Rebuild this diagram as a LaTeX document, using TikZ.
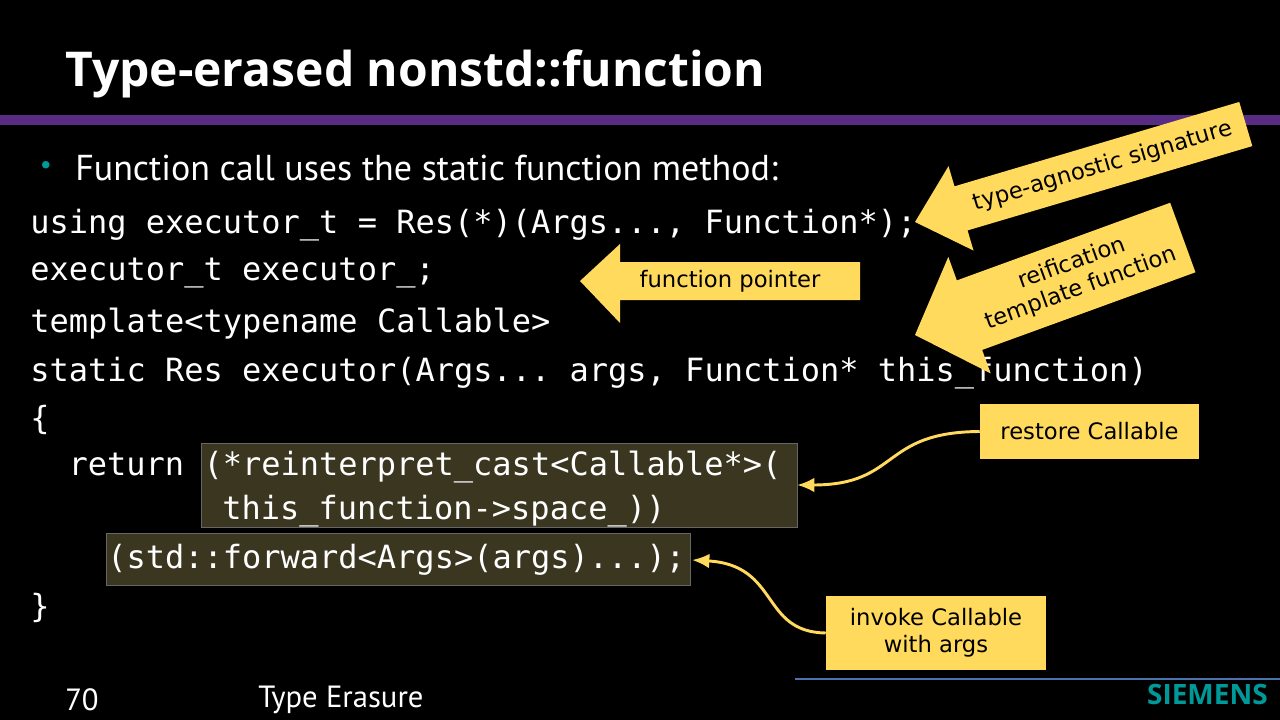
\documentclass[tikz,border=0pt]{standalone}
\usepackage{fontspec}
\setmainfont{PT Sans}
\setmonofont{DejaVu Sans Mono}
\newfontfamily\titlefont{Open Sans}
\newfontfamily\notefont{DejaVu Sans}
\usetikzlibrary{positioning,arrows.meta}
\definecolor{notey}{HTML}{FFDA5C}
\definecolor{barpurple}{HTML}{582C83}
\definecolor{hlbox}{HTML}{3B3620}
\definecolor{teal}{HTML}{009999}
\newcommand{\us}{\char`\_}
\begin{document}
\begin{tikzpicture}[x=0.75pt,y=-0.75pt,>=latex,
  code/.style={anchor=west,text=white,font=\ttfamily\fontsize{24}{28}\selectfont,inner sep=0pt},
  hl/.style={fill=hlbox,draw=black!60!white,line width=0.6pt},
  note/.style={fill=notey,text=black,font=\notefont\fontsize{17}{20}\selectfont,align=center},
  link/.style={draw=notey,line width=2.2pt,-{Latex[length=13pt,width=11pt]}}]
  \fill[black] (0,0) rectangle (1280,720);
  \useasboundingbox (0,0) rectangle (1280,720);

  % title and header bar
  \node[anchor=base west,text=white,inner sep=0pt,font=\titlefont\bfseries\fontsize{36}{40}\selectfont] (title) at (65,87) {Type-erased nonstd::function};
  \fill[barpurple] (0,115) rectangle (1280,125);

  % bullet
  \node[text=teal,font=\fontsize{20}{24}\selectfont] (dot) at (46,168) {•};
  \node[anchor=west,text=white,inner sep=0pt,font=\fontsize{27}{30}\selectfont] (bullet) at (75,168) {Function call uses the static function method:};

  % highlighted code parts
  \draw[hl] (201,443) rectangle (797,527);
  \draw[hl] (106,533) rectangle (690,585);
  \coordinate (cast) at (797,485);
  \coordinate (fwd) at (692,560);

  % code lines
  \node[code] (l1) at (30,225) {using executor\us t = Res(*)(Args..., Function*);};
  \node[code] (l2) at (30,273) {executor\us t executor\us;};
  \node[code] (l3) at (30,324) {template<typename Callable>};
  \node[code] (l4) at (30,373) {static Res executor(Args... args, Function* this\us function)};
  \node[code] (l5) at (30,420) {\{};
  \node[code] (l6) at (68.4,467) {return (*reinterpret\us cast<Callable*>(};
  \node[code] (l7) at (222,511) {this\us function->space\us))};
  \node[code] (l8) at (107,560) {(std::forward<Args>(args)...);};
  \node[code] (l9) at (30,608) {\}};

  % block arrows
  \fill[notey] (860,262) -- (620,262) -- (620,244) -- (580,281) -- (620,323) -- (620,300) -- (860,300) -- cycle;
  \node[note,fill=none] (fp) at (730,281) {function pointer};

  \begin{scope}[shift={(915,222)},rotate=16.5]
    \fill[notey] (0,0) -- (48,-44) -- (48,-23) -- (345,-23) -- (345,23) -- (48,23) -- (48,44) -- cycle;
    \node[note,fill=none,rotate=16.5] (sig) at (196,0) {type-agnostic signature};
  \end{scope}

  \begin{scope}[shift={(915,335)},rotate=20]
    \fill[notey] (0,0) -- (58,-62) -- (58,-37) -- (285,-37) -- (285,37) -- (58,37) -- (58,62) -- cycle;
    \node[note,fill=none,rotate=20,inner sep=0pt] (reif) at (172,0) {reification\\template function};
  \end{scope}

  % callouts with links
  \node[note,minimum width=219pt*0.75,minimum height=55pt*0.75] (restore) at (1089.5,431.5) {restore Callable};
  \node[note,minimum width=220pt*0.75,minimum height=74pt*0.75,inner sep=2pt] (invoke) at (936,633) {invoke Callable\\with args};
  \draw[link] (restore.west) .. controls (880,432) and (900,485) .. (cast);
  \draw[link] (invoke.west) .. controls (760,632) and (780,565) .. (fwd);

  % footer
  \draw[color={rgb,255:red,74;green,115;blue,176},line width=1.2pt] (795,679) -- (1280,679);
  \node[anchor=west,text=white,font=\fontsize{23}{26}\selectfont,inner sep=0pt] (page) at (65,700) {70};
  \node[anchor=west,text=white,font=\fontsize{23}{26}\selectfont,inner sep=0pt] (topic) at (258,700) {Type Erasure};
  \node[anchor=east,text=teal,font=\titlefont\bfseries\fontsize{21}{24}\selectfont,inner sep=0pt] (logo) at (1268,694) {SIEMENS};
\end{tikzpicture}
\end{document}
